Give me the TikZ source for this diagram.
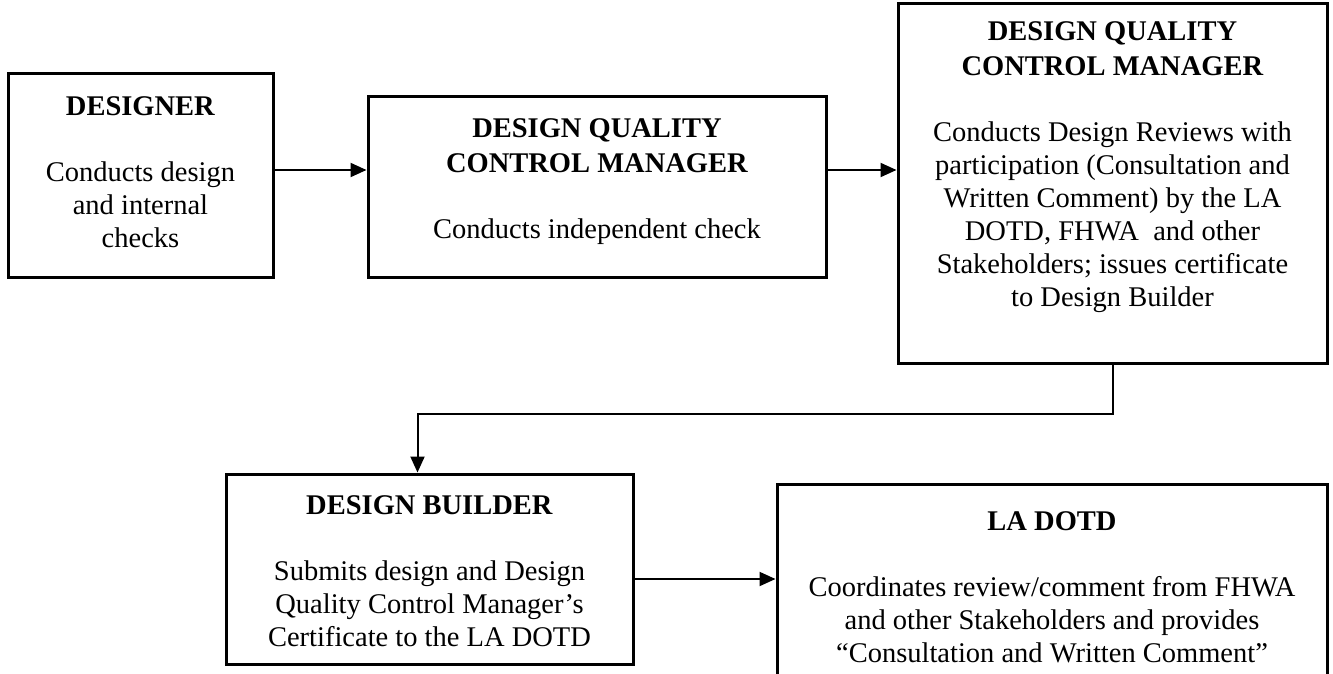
\documentclass[tikz,border=0pt]{standalone}
\usepackage{fontspec}
\setmainfont{Liberation Serif}
\usetikzlibrary{arrows.meta}

\begin{document}
\begin{tikzpicture}[
        x=1pt, y=-1pt,
        box/.style={draw,line width=3pt,inner sep=0pt},
        boxtext/.style={anchor=north,align=center,inner sep=0pt,font=\fontsize{28.5}{33}\selectfont},
        link/.style={line width=2pt,->},
        >={Triangle[length=16pt,width=14pt]}
    ]
        \clip (0,0) rectangle (1333,674);

        % Boxes
        \node[box,minimum width=265pt,minimum height=203pt] (designer) at (140.5,175.5) {};
        \node[box,minimum width=458pt,minimum height=180pt] (dqcmA) at (597,187) {};
        \node[box,minimum width=429pt,minimum height=359pt] (dqcmB) at (1112.5,183.5) {};
        \node[box,minimum width=407pt,minimum height=190pt] (builder) at (429.5,569) {};
        \node[box,minimum width=550pt,minimum height=216pt] (ladotd) at (1052,592) {};

        % Texts
        \node[boxtext] (designertext) at ([yshift=-24pt]designer.north)
            {\textbf{DESIGNER}\\[33pt]Conducts design\\and internal\\checks};
        \node[boxtext] (dqcmAtext) at ([yshift=-23pt]dqcmA.north)
            {\textbf{DESIGN QUALITY}\\[2pt]\textbf{CONTROL MANAGER}\\[33pt]Conducts independent check};
        \node[boxtext] (dqcmBtext) at ([yshift=-19pt]dqcmB.north)
            {\textbf{DESIGN QUALITY}\\[2pt]\textbf{CONTROL MANAGER}\\[33pt]Conducts Design Reviews with\\participation (Consultation and\\Written Comment) by the LA\\DOTD, FHWA~ and other\\Stakeholders; issues certificate\\to Design Builder};
        \node[boxtext] (buildertext) at ([yshift=-23pt]builder.north)
            {\textbf{DESIGN BUILDER}\\[33pt]Submits design and Design\\Quality Control Manager’s\\Certificate to the LA DOTD};
        \node[boxtext] (ladotdtext) at ([yshift=-29pt]ladotd.north)
            {\textbf{LA DOTD}\\[33pt]Coordinates review/comment from FHWA\\and other Stakeholders and provides\\“Consultation and Written Comment”};

        % Connectors
        \coordinate (toprow) at (0,170);
        \coordinate (lowrow) at (0,579);
        \draw[link] (designer.east |- toprow) -- (dqcmA.west |- toprow);
        \draw[link] (dqcmA.east |- toprow) -- (dqcmB.west |- toprow);
        \draw[link] (dqcmB.south) -- ++(0,49) -| ([xshift=-12pt]builder.north);
        \draw[link] (builder.east |- lowrow) -- (ladotd.west |- lowrow);
    \end{tikzpicture}
\end{document}
